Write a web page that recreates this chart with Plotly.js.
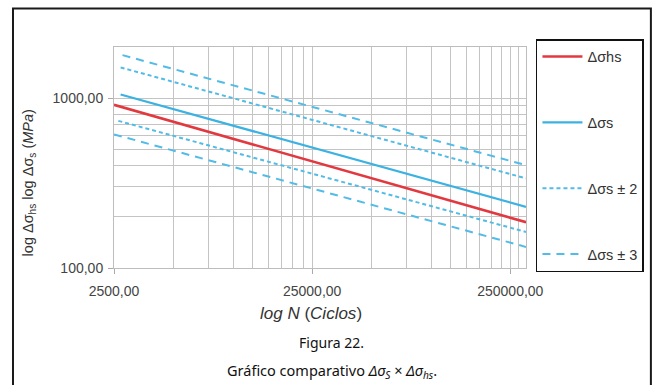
<!DOCTYPE html>
<html>
<head>
<meta charset="utf-8">
<script src="https://cdn.plot.ly/plotly-3.0.1.min.js"></script>
<style>
  html, body { margin: 0; padding: 0; background: #fff; }
  #chart { width: 656px; height: 385px; }
</style>
</head>
<body>
<div id="chart"></div>
<script>
// ---- Data (N in cycles, stress range in MPa) ----
const N_hs   = [2500, 300000];
const S_hs   = [913, 186];
const N_s    = [2700, 300000];
const S_s    = [1051, 229];
const N_sP2  = [2700, 300000];
const S_sP2  = [1516, 337];
const N_sM2  = [2630, 300000];
const S_sM2  = [735, 163];
const N_sP3  = [2760, 300000];
const S_sP3  = [1791, 403];
const N_sM3  = [2500, 300000];
const S_sM3  = [612, 133];

const seriesNames = ['Δσhs', 'Δσs', 'Δσs ± 2', 'Δσs ± 3'];

const xTickVals = [2500, 25000, 250000];
const xTickText = ['2500,00', '25000,00', '250000,00'];
const yTickVals = [100, 1000];
const yTickText = ['100,00', '1000,00'];
const xMinorVals = [5000, 7500, 10000, 12500, 15000, 17500, 20000, 22500,
                    50000, 75000, 100000, 125000, 150000, 175000, 200000, 225000, 275000];
const yMinorVals = [200, 300, 400, 500, 600, 700, 800, 900, 2000];

const RED = '#e2383f';
const BLUE = '#3bb2e2';
const DBLUE = '#52bbe6';

const traces = [
  {x: N_hs, y: S_hs, name: seriesNames[0], legendgroup: 'g1', mode: 'lines',
   line: {color: RED, width: 2.6}},
  {x: N_s, y: S_s, name: seriesNames[1], legendgroup: 'g2', mode: 'lines',
   line: {color: BLUE, width: 2.2}},
  {x: N_sP2, y: S_sP2, name: seriesNames[2], legendgroup: 'g3', mode: 'lines',
   line: {color: DBLUE, width: 2, dash: '4px,3px'}},
  {x: N_sM2, y: S_sM2, name: seriesNames[2], legendgroup: 'g3', showlegend: false, mode: 'lines',
   line: {color: DBLUE, width: 2, dash: '4px,3px'}},
  {x: N_sP3, y: S_sP3, name: seriesNames[3], legendgroup: 'g4', mode: 'lines',
   line: {color: DBLUE, width: 2, dash: '8px,6px'}},
  {x: N_sM3, y: S_sM3, name: seriesNames[3], legendgroup: 'g4', showlegend: false, mode: 'lines',
   line: {color: DBLUE, width: 2, dash: '8px,6px'}}
];

const W = 656, H = 385;
const L = 114, R = 128, T = 47, B = 117;
const pw = W - L - R, ph = H - T - B;
const px = v => (v - L) / pw;
const py = v => (H - B - v) / ph;

const GRID = '#c4c4c4';
const SANS = 'Liberation Sans, Arial, sans-serif';
const tickFont = {family: SANS, size: 14, color: '#444'};

const layout = {
  width: W, height: H,
  margin: {l: L, r: R, t: T, b: B, pad: 0},
  paper_bgcolor: '#fff', plot_bgcolor: '#fff',
  showlegend: true,
  xaxis: {
    type: 'log',
    range: [Math.log10(2500), Math.log10(300000)],
    tickmode: 'array', tickvals: xTickVals, ticktext: xTickText,
    ticks: 'outside', ticklen: 5, tickcolor: '#aaa', tickwidth: 1,
    ticklabelstandoff: 5,
    tickfont: tickFont,
    showgrid: true, gridcolor: GRID, gridwidth: 1,
    minor: {tickmode: 'array', tickvals: xMinorVals, showgrid: true, gridcolor: GRID, gridwidth: 1, ticks: ''},
    showline: true, linecolor: '#bdbdbd', linewidth: 1, mirror: true,
    zeroline: false, fixedrange: true
  },
  yaxis: {
    type: 'log',
    range: [2, Math.log10(2000)],
    tickmode: 'array', tickvals: yTickVals, ticktext: yTickText,
    ticks: 'outside', ticklen: 5, tickcolor: '#aaa', tickwidth: 1,
    ticklabelstandoff: 2,
    tickfont: tickFont,
    showgrid: true, gridcolor: GRID, gridwidth: 1,
    minor: {tickmode: 'array', tickvals: yMinorVals, showgrid: true, gridcolor: GRID, gridwidth: 1, ticks: ''},
    showline: true, linecolor: '#bdbdbd', linewidth: 1, mirror: true,
    zeroline: false, fixedrange: true
  },
  legend: {
    x: px(538), y: py(39), xanchor: 'left', yanchor: 'top',
    bordercolor: '#111', borderwidth: 1.5, bgcolor: '#fff',
    font: {family: SANS, size: 14.5, color: '#333'},
    traceorder: 'grouped', tracegroupgap: 44,
    itemwidth: 40, entrywidth: 78, maxheight: 320,
    itemclick: false, itemdoubleclick: false
  },
  shapes: [
    {type: 'rect', xref: 'paper', yref: 'paper',
     x0: px(12.5), x1: px(653.5), y0: py(395), y1: py(8.5),
     line: {color: '#1a1a1a', width: 2}, fillcolor: 'rgba(0,0,0,0)', layer: 'above'}
  ],
  annotations: [
    {xref: 'paper', yref: 'paper', x: px(29), y: py(183), textangle: -90,
     showarrow: false, xanchor: 'center', yanchor: 'middle',
     text: 'log Δσ<sub>hs</sub> log Δσ<sub>s</sub> (<i>MPa</i>)',
     font: {family: SANS, size: 14.5, color: '#333'}},
    {xref: 'paper', yref: 'paper', x: px(312), y: py(313),
     showarrow: false, xanchor: 'center', yanchor: 'middle',
     text: '<i>log N</i> (<i>Ciclos</i>)',
     font: {family: SANS, size: 17, color: '#333'}},
    {xref: 'paper', yref: 'paper', x: px(333), y: py(342),
     showarrow: false, xanchor: 'center', yanchor: 'middle',
     text: 'Figura 22.',
     font: {family: 'Noto Sans, Open Sans, sans-serif', size: 14, color: '#111'}},
    {xref: 'paper', yref: 'paper', x: px(333), y: py(371),
     showarrow: false, xanchor: 'center', yanchor: 'middle',
     text: 'Gráfico comparativo <i>Δσ<sub>S</sub></i> × <i>Δσ<sub>hs</sub></i>.',
     font: {family: 'Noto Sans, Open Sans, sans-serif', size: 14.5, color: '#111'}}
  ]
};

Plotly.newPlot('chart', traces, layout, {displayModeBar: false, staticPlot: true});
</script>
</body>
</html>
